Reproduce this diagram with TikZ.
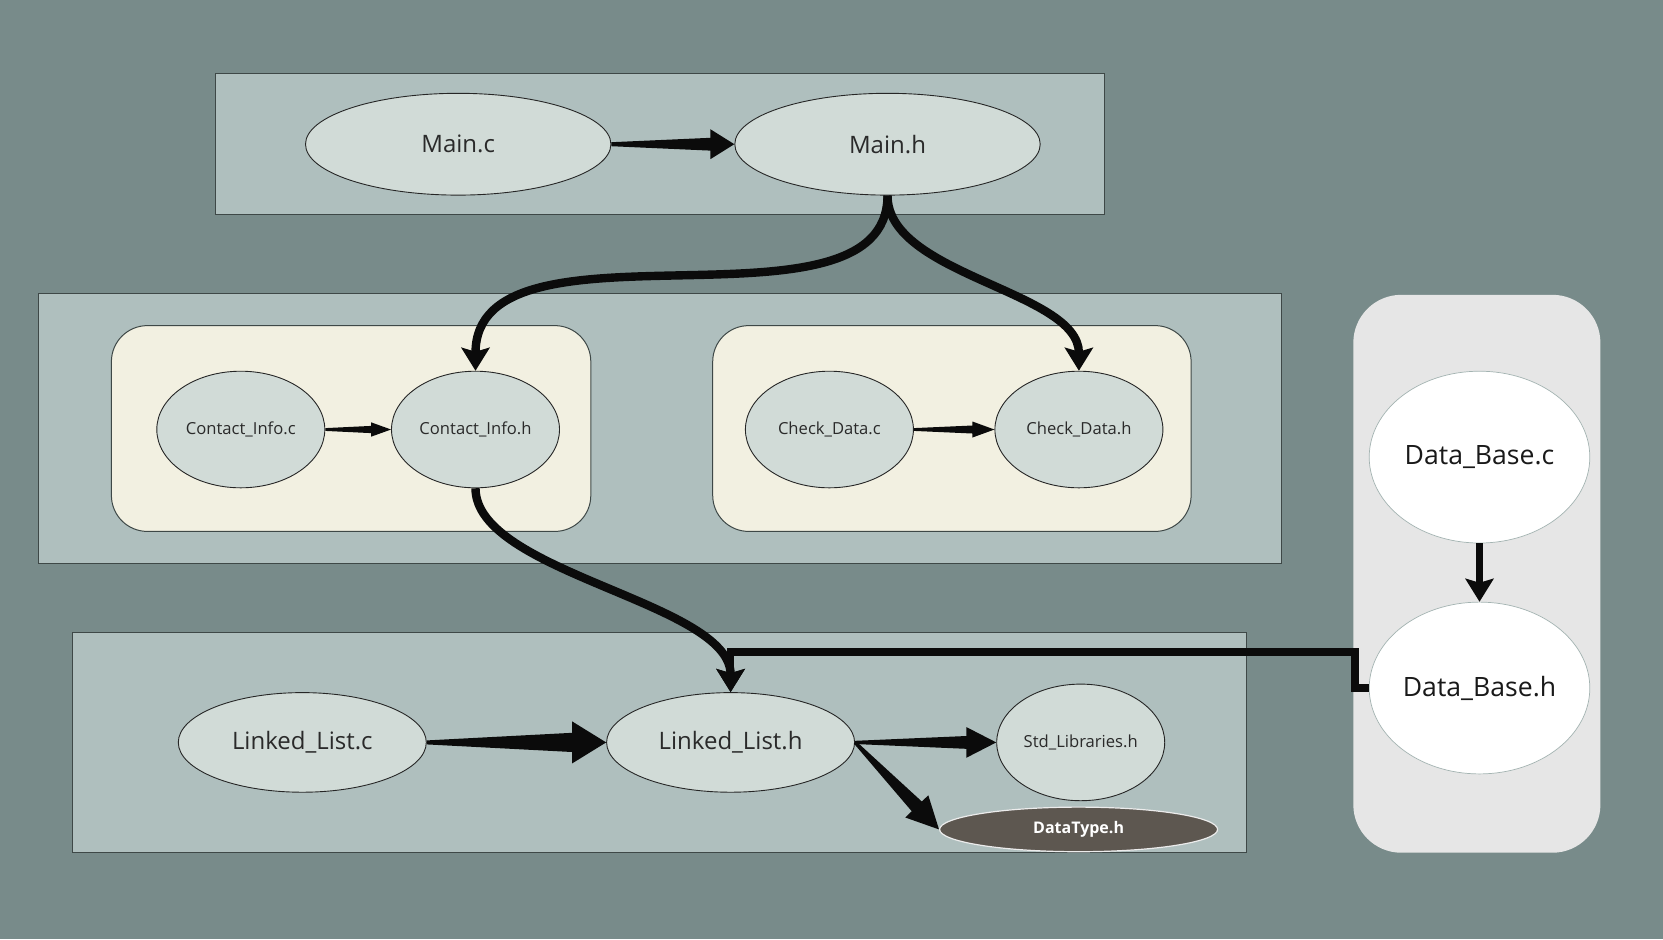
\documentclass[tikz,border=0pt]{standalone}
\usepackage{fontspec}
\setmainfont{Open Sans}
\usetikzlibrary{positioning,arrows.meta,calc,shapes.geometric}
\definecolor{bgslate}{HTML}{788B8A}
\definecolor{grpfill}{HTML}{AFBFBE}
\definecolor{grpline}{HTML}{3E4847}
\definecolor{nodefill}{HTML}{D1DBD7}
\definecolor{modfill}{HTML}{F2F0E1}
\definecolor{dbpanel}{HTML}{E6E6E6}
\definecolor{dbline}{HTML}{A3B3B1}
\definecolor{dtfill}{HTML}{5D5750}
\definecolor{edgeblk}{HTML}{0B0B0B}
\definecolor{txtgray}{HTML}{2A2A2A}
\tikzset{
  grp/.style={fill=grpfill, draw=grpline, line width=0.6pt},
  modgrp/.style={fill=modfill, draw=grpline, line width=0.5pt, rounded corners=18pt},
  file/.style={ellipse, draw=black!85, line width=0.45pt, fill=nodefill,
               text=txtgray, inner sep=0pt},
  bigfile/.style={file, minimum width=152.7pt, minimum height=50.9pt,
                  font=\fontsize{12}{14}\selectfont},
  listfile/.style={file, minimum width=124pt, minimum height=49.8pt,
                   font=\fontsize{12}{14}\selectfont},
  smallfile/.style={file, minimum width=84pt, minimum height=58.3pt,
                    font=\fontsize{8.3}{10}\selectfont},
  dbfile/.style={file, fill=white, draw=dbline, line width=0.35pt, text=black!90,
                 minimum width=110.3pt, minimum height=85.9pt,
                 font=\fontsize{13.3}{15}\selectfont},
  typefile/.style={file, fill=dtfill, draw=white!85!gray, line width=0.6pt, text=white,
                   minimum width=139pt, minimum height=22.3pt,
                   font=\bfseries\fontsize{8}{10}\selectfont},
  % wedge shaped connector: start half width, end half width, head half width, head length
  taper/.style n args={4}{fill=edgeblk, to path={
    let \p1=($(\tikztotarget)!#4!(\tikztostart)$) in
    ($(\tikztostart)!#1!90:(\tikztotarget)$)
    -- ($(\p1)!#2!90:(\tikztotarget)$)
    -- ($(\p1)!#3!90:(\tikztotarget)$)
    -- (\tikztotarget)
    -- ($(\p1)!#3!-90:(\tikztotarget)$)
    -- ($(\p1)!#2!-90:(\tikztotarget)$)
    -- ($(\tikztostart)!#1!-90:(\tikztotarget)$)
    -- cycle}},
  link/.style={draw=edgeblk, line width=4.2pt,
               -{Stealth[length=11.5pt, width=14pt, inset=2pt]}},
}
\begin{document}
\begin{tikzpicture}[x=0.5pt, y=-0.5pt]
  \useasboundingbox (0,0) rectangle (1663,939);
  \fill[bgslate] (0,0) rectangle (1663,939);
  % groups
  \draw[grp] (215.3,73.2) rectangle (1104.1,214.2);
  \draw[grp] (38.2,293.8) rectangle (1281.2,563.2);
  \draw[grp] (72.1,632.1) rectangle (1246.2,852.7);
  \draw[modgrp] (111.4,325.6) rectangle (590.8,531.4);
  \draw[modgrp] (712.7,325.6) rectangle (1191.1,531.4);
  \fill[dbpanel, rounded corners=24pt] (1353.3,294.8) rectangle (1600.4,852.7);

  % files
  \node[bigfile] (mc) at (458.2,144.2) {Main.c};
  \node[bigfile, right=61.5pt of mc] (mh) {Main.h};
  \node[smallfile] (cic) at (240.8,429.5) {Contact\_Info.c};
  \node[smallfile, right=32.9pt of cic] (cih) {Contact\_Info.h};
  \node[smallfile] (cdc) at (829.4,429.5) {Check\_Data.c};
  \node[smallfile, right=40.3pt of cdc] (cdh) {Check\_Data.h};
  \node[dbfile] (dbc) at (1479.5,457.1) {Data\_Base.c};
  \node[dbfile, below=29.2pt of dbc] (dbh) {Data\_Base.h};
  \node[listfile] (llc) at (302.3,742.4) {Linked\_List.c};
  \node[listfile, right=89.7pt of llc] (llh) {Linked\_List.h};
  \node[smallfile, right=70.6pt of llh] (std) {Std\_Libraries.h};
  \node[typefile] (dt) at (1078.6,829.4) {DataType.h};
  \coordinate (jn) at ($(llh.north)+(0,-40)$);

  % includes
  \path[taper={1pt}{3.2pt}{7.5pt}{12pt}] (mc.east) to (mh.west);
  \path[taper={0.7pt}{1.8pt}{3.6pt}{10pt}] (cic.east) to (cih.west);
  \path[taper={0.7pt}{2pt}{4pt}{11pt}] (cdc.east) to (cdh.west);
  \path[taper={1pt}{4.8pt}{10.5pt}{17pt}] (llc.east) to (llh.west);
  \path[taper={0.8pt}{3.2pt}{7.7pt}{15pt}] (llh.east) to (std.west);
  \path[taper={0.8pt}{3.5pt}{8pt}{16pt}] (llh.east) to (dt.west);
  \draw[link] (mh.south) .. controls +(0,150) and +(0,-165) .. (cih.north);
  \draw[link] (mh.south) .. controls +(0,80) and +(0,-80) .. (cdh.north);
  \draw[link] (cih.south) .. controls +(0,85) and +(0,-90) .. (llh.north);
  \draw[link, line width=3.7pt] (dbh.west) -- ++(-14,0) |- (jn) -- (llh.north);
  \draw[link, line width=3.2pt] (dbc.south) -- (dbh.north);
\end{tikzpicture}
\end{document}
